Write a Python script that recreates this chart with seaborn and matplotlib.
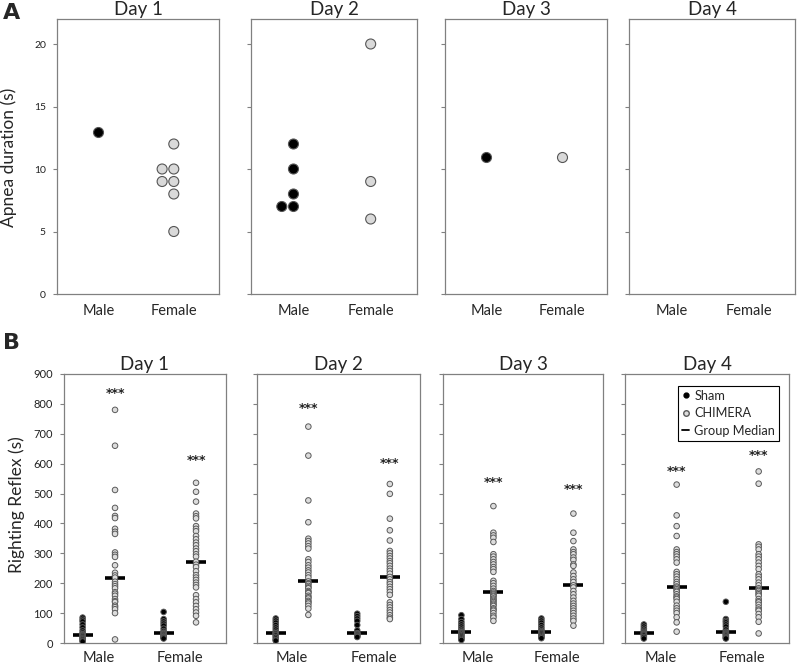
import numpy as np
import pandas as pd
import seaborn as sns
import matplotlib.pyplot as plt
from matplotlib.lines import Line2D

sns.set_style("white")
plt.rcParams["font.family"] = ["Lato", "DejaVu Sans"]

days = ["Day 1", "Day 2", "Day 3", "Day 4"]
sexes = ["Male", "Female"]
groups = ["Sham", "CHIMERA"]

# panel A - apnea duration (s)
apnea_male = [[13], [12, 10, 8, 7, 7], [11], []]
apnea_female = [[12, 10, 10, 9, 9, 8, 5], [20, 9, 6], [11], []]

# panel B - righting reflex (s)
rr_d1_male_sham = [85, 78, 72, 62, 52, 42, 35, 30, 28, 27, 25, 22, 18, 15, 12, 8, 5]
rr_d1_male_chim = [780, 660, 512, 452, 425, 418, 382, 372, 365, 303, 295, 288, 260, 235, 226,
                   219, 205, 197, 190, 183, 170, 165, 158, 147, 140, 137, 125, 120, 113, 100, 12]
rr_d1_female_sham = [104, 80, 72, 65, 58, 48, 40, 35, 33, 30, 28, 25, 22, 20, 18, 15]
rr_d1_female_chim = [536, 506, 473, 433, 424, 417, 391, 382, 374, 358, 347, 336, 327, 316, 307, 297,
                     289, 272, 262, 254, 240, 227, 219, 211, 202, 194, 186, 160, 147, 136, 124, 113,
                     102, 91, 69]
rr_d2_male_sham = [82, 75, 68, 60, 52, 45, 38, 33, 32, 28, 25, 20, 15, 10, 8]
rr_d2_male_chim = [724, 627, 477, 404, 349, 341, 333, 324, 316, 280, 271, 260, 252, 243, 236, 227,
                   219, 206, 200, 197, 191, 186, 183, 174, 170, 167, 158, 153, 149, 141, 137, 132,
                   124, 115, 94]
rr_d2_female_sham = [98, 90, 82, 74, 60, 42, 33, 32, 30, 28, 25, 22, 20]
rr_d2_female_chim = [532, 499, 416, 377, 343, 308, 300, 291, 283, 274, 267, 258, 249, 241, 232, 221,
                     213, 204, 197, 188, 180, 171, 161, 136, 127, 119, 110, 102, 93, 85, 80]
rr_d3_male_sham = [93, 80, 70, 62, 55, 48, 42, 38, 36, 33, 30, 26, 22, 18, 14, 10]
rr_d3_male_chim = [458, 369, 360, 352, 338, 297, 289, 280, 271, 263, 254, 247, 238, 208, 200, 191,
                   182, 174, 169, 165, 162, 158, 155, 149, 145, 141, 137, 132, 128, 124, 116, 112,
                   108, 100, 91, 85, 74]
rr_d3_female_sham = [82, 75, 68, 60, 52, 45, 40, 36, 35, 32, 28, 24, 20, 16]
rr_d3_female_chim = [433, 369, 341, 313, 304, 297, 286, 278, 263, 258, 236, 224, 213, 204, 193,
                     186, 174, 163, 152, 141, 132, 124, 116, 108, 100, 91, 82, 74, 58]
rr_d4_male_sham = [62, 55, 48, 42, 38, 35, 32, 30, 28, 25, 20, 15]
rr_d4_male_chim = [530, 427, 391, 358, 313, 304, 297, 289, 280, 269, 238, 230, 222, 213, 204, 197,
                   189, 185, 180, 175, 171, 163, 156, 152, 147, 138, 125, 116, 108, 100, 86, 69, 38]
rr_d4_female_sham = [138, 80, 74, 69, 62, 55, 45, 38, 35, 32, 30, 27, 24, 20, 17, 15]
rr_d4_female_chim = [574, 533, 330, 322, 313, 297, 289, 280, 269, 258, 247, 230, 222, 213, 202, 193,
                     183, 178, 174, 168, 163, 158, 147, 140, 136, 128, 119, 112, 108, 97, 86, 71, 32]

# *** heights per day
stars_male = [835, 786, 536, 573]
stars_female = [611, 600, 513, 627]

rows = []
for d, m, f in zip(days, apnea_male, apnea_female):
    rows += [(d, "Male", v) for v in m]
    rows += [(d, "Female", v) for v in f]
df_a = pd.DataFrame(rows, columns=["day", "sex", "value"])

rr_lists = {
    ("Day 1", "Male", "Sham"): rr_d1_male_sham, ("Day 1", "Male", "CHIMERA"): rr_d1_male_chim,
    ("Day 1", "Female", "Sham"): rr_d1_female_sham, ("Day 1", "Female", "CHIMERA"): rr_d1_female_chim,
    ("Day 2", "Male", "Sham"): rr_d2_male_sham, ("Day 2", "Male", "CHIMERA"): rr_d2_male_chim,
    ("Day 2", "Female", "Sham"): rr_d2_female_sham, ("Day 2", "Female", "CHIMERA"): rr_d2_female_chim,
    ("Day 3", "Male", "Sham"): rr_d3_male_sham, ("Day 3", "Male", "CHIMERA"): rr_d3_male_chim,
    ("Day 3", "Female", "Sham"): rr_d3_female_sham, ("Day 3", "Female", "CHIMERA"): rr_d3_female_chim,
    ("Day 4", "Male", "Sham"): rr_d4_male_sham, ("Day 4", "Male", "CHIMERA"): rr_d4_male_chim,
    ("Day 4", "Female", "Sham"): rr_d4_female_sham, ("Day 4", "Female", "CHIMERA"): rr_d4_female_chim,
}
rows = []
for (d, s, g), vals in rr_lists.items():
    rows += [(d, s, g, v) for v in vals]
df_b = pd.DataFrame(rows, columns=["day", "sex", "group", "value"])

W, H = 800, 665
fig = plt.figure(figsize=(8, 6.65), dpi=100)

def px_axes(x0, x1, y0, y1):
    return fig.add_axes([x0 / W, 1 - y1 / H, (x1 - x0) / W, (y1 - y0) / H])

spine_col = "#808080"

def style_ax(ax, first, yticks, tick_fs, xpad):
    for sp in ax.spines.values():
        sp.set_color(spine_col)
        sp.set_linewidth(0.9)
    ax.set_xlabel("")
    ax.set_ylabel("")
    ax.set_yticks(yticks)
    ax.tick_params(axis="y", left=True, length=3, width=0.8, color=spine_col,
                   labelsize=tick_fs, labelcolor="#222222", pad=5, labelleft=first)
    ax.tick_params(axis="x", bottom=False, labelsize=10.5, pad=xpad)

# ---- panel A
a_pos = [(57, 219), (251, 417), (445, 607), (629, 795)]
for i, d in enumerate(days):
    ax = px_axes(a_pos[i][0], a_pos[i][1], 19, 294)
    sub = df_a[df_a["day"] == d]
    if len(sub):
        sns.swarmplot(data=sub, x="sex", y="value", hue="sex", order=sexes, hue_order=sexes,
                      palette={"Male": "black", "Female": "#d9d9d9"}, size=7.2, linewidth=0.8,
                      edgecolor="#555555", legend=False, ax=ax)
    ax.set_xticks([0, 1], sexes)
    ax.set_xlim(-0.55, 1.6)
    ax.set_ylim(0, 22)
    style_ax(ax, i == 0, [0, 5, 10, 15, 20], 7.5, 4)
    ax.set_title(d, fontsize=13.5, pad=3)

# ---- panel B
b_pos = [(64, 226), (257, 420), (443, 603), (625, 789)]
for i, d in enumerate(days):
    ax = px_axes(b_pos[i][0], b_pos[i][1], 374, 643)
    sub = df_b[df_b["day"] == d]
    sns.stripplot(data=sub, x="sex", y="value", hue="group", order=sexes, hue_order=groups,
                  dodge=True, jitter=False, palette={"Sham": "black", "CHIMERA": "#dcdcdc"},
                  size=4.0, linewidth=0.7, edgecolor="#5a5a5a", legend=False, ax=ax)
    sns.pointplot(data=sub, x="sex", y="value", hue="group", order=sexes, hue_order=groups,
                  estimator="median", errorbar=None, dodge=0.4, markers="_", linestyle="none",
                  palette={"Sham": "black", "CHIMERA": "black"}, markersize=15,
                  markeredgewidth=2.6, legend=False, ax=ax)
    for k, h in enumerate([stars_male[i], stars_female[i]]):
        ax.text(k + 0.2, h, "***", ha="center", va="center", fontsize=9, fontweight="bold",
                family="DejaVu Sans", color="#222222")
    ax.set_xticks([0, 1], sexes)
    ax.set_xlim(-0.43, 1.57)
    ax.set_ylim(0, 900)
    style_ax(ax, i == 0, range(0, 901, 100), 8, 2)
    ax.set_title(d, fontsize=13.5, pad=3)
    if i == 3:
        handles = [
            Line2D([], [], marker="o", color="black", linestyle="none", markersize=3.5),
            Line2D([], [], marker="o", markerfacecolor="#dcdcdc", markeredgecolor="#5a5a5a",
                   linestyle="none", markersize=4),
            Line2D([], [], color="black", lw=1.3),
        ]
        leg = ax.legend(handles, ["Sham", "CHIMERA", "Group Median"], loc="upper right",
                        bbox_to_anchor=(0.94, 0.955), borderaxespad=0, fontsize=9.2,
                        handlelength=0.6, handletextpad=0.4, borderpad=0.3, labelspacing=0.42,
                        fancybox=False, framealpha=1, edgecolor="black")
        leg.get_frame().set_linewidth(0.8)

fig.text(9 / W, 1 - 157 / H, "Apnea duration (s)", rotation=90, ha="center", va="center",
         fontsize=12.5)
fig.text(17 / W, 1 - 505 / H, "Righting Reflex (s)", rotation=90, ha="center", va="center",
         fontsize=12.5)
fig.text(3 / W, 1 - 13 / H, "A", fontsize=16, fontweight="bold", va="center",
         family="DejaVu Sans")
fig.text(3 / W, 1 - 343 / H, "B", fontsize=16, fontweight="bold", va="center",
         family="DejaVu Sans")

fig.savefig("out.png", dpi=100)
